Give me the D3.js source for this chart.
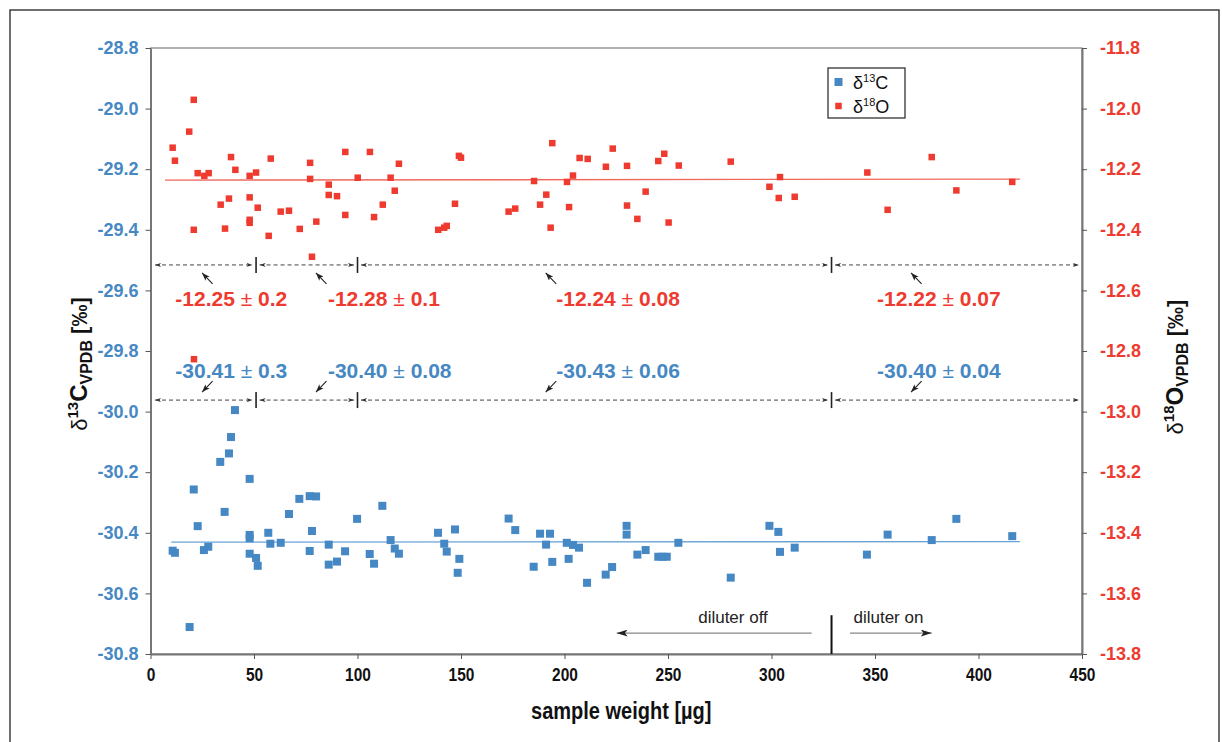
<!DOCTYPE html>
<html>
<head>
<meta charset="utf-8">
<script src="https://cdn.jsdelivr.net/npm/d3@7"></script>
<style>
  body { margin: 0; background: #fff; }
  svg { display: block; font-family: 'Liberation Sans', Arial, Helvetica, sans-serif; }
</style>
</head>
<body>
<div id="chart"></div>
<script>
const xTicks = [0, 50, 100, 150, 200, 250, 300, 350, 400, 450];
const yTicksC = [-30.8, -30.6, -30.4, -30.2, -30.0, -29.8, -29.6, -29.4, -29.2, -29.0, -28.8];
const yTicksO = [-13.8, -13.6, -13.4, -13.2, -13.0, -12.8, -12.6, -12.4, -12.2, -12.0, -11.8];

// sample weight [µg] / δ13C [‰]
const weightC = [10.7, 11.8, 18.9, 20.9, 22.8, 25.8, 27.9, 33.7, 35.8, 37.9, 38.9, 40.8, 47.9, 47.9, 47.9, 47.9,
  51.0, 51.8, 56.9, 57.9, 62.9, 66.9, 71.9, 76.9, 76.9, 78.0, 80.0, 86.1, 86.1, 90.1, 94.0, 99.8, 105.9, 108.0,
  112.0, 116.0, 118.0, 120.0, 138.9, 141.9, 143.1, 147.1, 148.4, 149.2, 173.0, 176.2, 185.1, 188.2, 191.1, 193.0,
  194.1, 201.1, 202.0, 204.1, 207.0, 210.9, 219.9, 223.0, 230.0, 230.0, 235.2, 239.2, 245.3, 247.3, 249.4, 255.0,
  280.3, 299.0, 303.3, 304.1, 311.2, 346.1, 356.1, 377.4, 389.3, 416.3];
const delta13C = [-30.459, -30.466, -30.711, -30.257, -30.378, -30.457, -30.446, -30.166, -30.331, -30.138, -30.084,
  -29.995, -30.222, -30.407, -30.418, -30.469, -30.483, -30.509, -30.40, -30.436, -30.433, -30.338, -30.288, -30.279,
  -30.46, -30.394, -30.28, -30.439, -30.505, -30.495, -30.461, -30.354, -30.47, -30.502, -30.311, -30.424, -30.452,
  -30.469, -30.40, -30.436, -30.462, -30.389, -30.532, -30.486, -30.353, -30.391, -30.512, -30.403, -30.439, -30.403,
  -30.496, -30.433, -30.486, -30.44, -30.449, -30.565, -30.538, -30.513, -30.377, -30.406, -30.472, -30.457, -30.479,
  -30.479, -30.479, -30.433, -30.548, -30.377, -30.397, -30.463, -30.449, -30.472, -30.406, -30.424, -30.354, -30.411];

// sample weight [µg] / δ18O [‰]
const weightO = [10.7, 11.8, 18.7, 20.9, 20.9, 21.0, 22.8, 26.0, 28.1, 33.9, 36.0, 37.9, 38.9, 41.0, 47.9, 47.9, 47.9,
  47.9, 51.0, 51.8, 57.1, 58.1, 62.9, 66.9, 72.1, 77.1, 77.1, 78.0, 80.1, 86.1, 86.1, 90.1, 94.1, 94.1, 100.1, 106.0,
  108.0, 112.2, 116.0, 118.0, 120.0, 139.0, 141.9, 143.1, 147.1, 149.0, 150.0, 173.0, 176.2, 185.3, 188.2, 191.2,
  193.3, 194.1, 201.2, 202.2, 204.1, 207.3, 211.2, 220.0, 223.3, 230.2, 230.2, 235.2, 239.2, 245.3, 248.2, 250.3,
  255.2, 280.3, 299.0, 303.5, 304.1, 311.2, 346.3, 356.1, 377.4, 389.3, 416.3];
const delta18O = [-12.129, -12.172, -12.076, -11.971, -12.40, -12.827, -12.213, -12.222, -12.213, -12.317, -12.396,
  -12.297, -12.16, -12.202, -12.222, -12.293, -12.367, -12.377, -12.211, -12.327, -12.42, -12.165, -12.34, -12.337,
  -12.397, -12.179, -12.232, -12.489, -12.373, -12.251, -12.285, -12.289, -12.143, -12.351, -12.228, -12.143, -12.358,
  -12.317, -12.228, -12.271, -12.182, -12.40, -12.393, -12.387, -12.314, -12.156, -12.162, -12.34, -12.33, -12.239,
  -12.317, -12.284, -12.393, -12.114, -12.242, -12.325, -12.221, -12.163, -12.166, -12.192, -12.132, -12.189, -12.32,
  -12.364, -12.274, -12.173, -12.149, -12.376, -12.188, -12.175, -12.258, -12.295, -12.226, -12.291, -12.211, -12.334,
  -12.16, -12.27, -12.242];

// fitted lines (end points)
const fitWeightC = [10, 420];
const fitC = [-30.431, -30.429];
const fitWeightO = [7, 420];
const fitO = [-12.236, -12.233];

// weight ranges and their mean ± sd
const segmentBounds = [0, 51, 100, 329, 450];
const meanO = ['-12.25', '-12.28', '-12.24', '-12.22'];
const sdO = ['0.2', '0.1', '0.08', '0.07'];
const meanC = ['-30.41', '-30.40', '-30.43', '-30.40'];
const sdC = ['0.3', '0.08', '0.06', '0.04'];
const dilutorLabels = ['diluter off', 'diluter on'];

(function () {
  const WIDTH = 1222;
  const HEIGHT = 742;
  const PLOT = { LEFT: 150.5, RIGHT: 1082, TOP: 48, BOTTOM: 654 };
  const BLUE = '#4688c3';
  const RED = '#ee3a2f';
  const GREY = '#777';

  const xScale = d3.scaleLinear().domain([0, 450]).range([PLOT.LEFT, PLOT.RIGHT]);
  const yScaleC = d3.scaleLinear().domain([-30.8, -28.8]).range([PLOT.BOTTOM, PLOT.TOP]);
  const yScaleO = d3.scaleLinear().domain([-13.8, -11.8]).range([PLOT.BOTTOM, PLOT.TOP]);

  const svg = d3.select('#chart').append('svg').attr('width', WIDTH).attr('height', HEIGHT);
  svg.append('rect').attr('width', WIDTH).attr('height', HEIGHT).attr('fill', '#fff');

  // outer figure frame
  svg.append('rect')
    .attr('x', 10).attr('y', 10).attr('width', 1209).attr('height', 760)
    .attr('fill', 'none').attr('stroke', '#222').attr('stroke-width', 1.3);

  const defs = svg.append('defs');
  const addArrow = (id, color, w, h) => {
    defs.append('marker')
      .attr('id', id)
      .attr('viewBox', `0 0 ${w} ${h}`)
      .attr('refX', w).attr('refY', h / 2)
      .attr('markerWidth', w).attr('markerHeight', h)
      .attr('markerUnits', 'userSpaceOnUse')
      .attr('orient', 'auto-start-reverse')
      .append('path')
      .attr('d', `M0,0L${w},${h / 2}L0,${h}L${w * 0.25},${h / 2}Z`)
      .attr('fill', color);
  };
  addArrow('tip-small', '#333', 6, 4);
  addArrow('tip-mid', '#222', 8, 6);
  addArrow('tip-big', '#222', 11, 7);

  // plot frame
  svg.append('rect')
    .attr('x', PLOT.LEFT).attr('y', PLOT.TOP)
    .attr('width', PLOT.RIGHT - PLOT.LEFT).attr('height', PLOT.BOTTOM - PLOT.TOP)
    .attr('fill', 'none').attr('stroke', '#666').attr('stroke-width', 1);

  const styleAxis = (g, color, size) => {
    g.select('.domain').attr('stroke', GREY).attr('stroke-width', 2);
    g.selectAll('.tick line').attr('stroke', '#555').attr('stroke-width', 1);
    g.selectAll('.tick text')
      .attr('fill', color)
      .attr('font-size', size)
      .attr('font-weight', 'bold');
  };

  // x tick labels are a narrow face in the original, squeeze them a bit
  svg.append('g')
    .attr('transform', `translate(0,${PLOT.BOTTOM})`)
    .call(d3.axisBottom(xScale).tickValues(xTicks).tickSizeInner(5).tickSizeOuter(0).tickPadding(9))
    .call((g) => styleAxis(g, '#111', 18))
    .call((g) => g.selectAll('.tick text').attr('transform', 'scale(0.86,1)'));

  svg.append('g')
    .attr('transform', `translate(${PLOT.LEFT},0)`)
    .call(d3.axisLeft(yScaleC).tickValues(yTicksC).tickSizeInner(5).tickSizeOuter(0).tickPadding(7)
      .tickFormat((d) => d.toFixed(1)))
    .call((g) => styleAxis(g, BLUE, 18));

  svg.append('g')
    .attr('transform', `translate(${PLOT.RIGHT},0)`)
    .call(d3.axisRight(yScaleO).tickValues(yTicksO).tickSizeInner(5).tickSizeOuter(0).tickPadding(13)
      .tickFormat((d) => d.toFixed(1)))
    .call((g) => styleAxis(g, RED, 18));

  // axis titles
  svg.append('text')
    .attr('transform', `translate(${(PLOT.LEFT + PLOT.RIGHT) / 2 + 5},719) scale(0.87,1)`)
    .attr('text-anchor', 'middle')
    .attr('font-size', 23).attr('font-weight', 'bold').attr('fill', '#111')
    .text('sample weight [µg]');

  const yTitle = (x, y, sup, letter) => {
    const t = svg.append('text')
      .attr('transform', `translate(${x},${y}) rotate(-90)`)
      .attr('text-anchor', 'middle')
      .attr('font-size', 22).attr('fill', '#111');
    t.append('tspan').text('δ');
    t.append('tspan').attr('font-size', 15).attr('font-weight', 'bold').attr('dy', -9).text(sup);
    t.append('tspan').attr('font-size', 24).attr('font-weight', 'bold').attr('dy', 9).text(letter);
    t.append('tspan').attr('font-size', 16).attr('font-weight', 'bold').attr('dy', 5).text('VPDB');
    t.append('tspan').attr('font-weight', 'bold').attr('dy', -5).text(' [‰]');
  };
  yTitle(87, 364, '13', 'C');
  yTitle(1183, 367, '18', 'O');

  // segment rows with double arrows
  const rowO = yScaleO(-12.516);
  const rowC = yScaleC(-29.962);
  const segments = d3.pairs(segmentBounds);
  [rowO, rowC].forEach((rowY) => {
    const g = svg.append('g');
    g.selectAll('line.seg')
      .data(segments)
      .join('line')
      .attr('x1', (d, i) => xScale(d[0]) + (i === 0 ? 4.5 : 3.5))
      .attr('x2', (d, i) => xScale(d[1]) - (i === segments.length - 1 ? 3 : 3.5))
      .attr('y1', rowY).attr('y2', rowY)
      .attr('stroke', '#444').attr('stroke-width', 1)
      .attr('stroke-dasharray', '4,3')
      .attr('marker-start', 'url(#tip-small)')
      .attr('marker-end', 'url(#tip-small)');
    g.selectAll('line.div')
      .data(segmentBounds.slice(1, -1))
      .join('line')
      .attr('x1', (d) => xScale(d)).attr('x2', (d) => xScale(d))
      .attr('y1', rowY - 8).attr('y2', rowY + 8)
      .attr('stroke', '#222').attr('stroke-width', 1.6);
  });

  // mean ± sd labels
  const labelX = [12, 85.7, 196, 351];
  const pointerX = [30, 85, 196, 372.5];
  const statLabels = (means, sds, color, baseY) => {
    means.forEach((m, i) => {
      const t = svg.append('text')
        .attr('x', xScale(labelX[i])).attr('y', baseY)
        .attr('font-size', 21).attr('fill', color);
      t.append('tspan').attr('font-weight', 'bold').text(m + ' ');
      t.append('tspan').text('±');
      t.append('tspan').attr('font-weight', 'bold').text(' ' + sds[i]);
    });
  };
  statLabels(meanO, sdO, RED, 306);
  statLabels(meanC, sdC, BLUE, 378);

  const pointers = (rowY, dir) => {
    svg.append('g').selectAll('line')
      .data(pointerX)
      .join('line')
      .attr('x1', (d) => xScale(d)).attr('y1', rowY + dir * 19)
      .attr('x2', (d) => xScale(d) - 10.5).attr('y2', rowY + dir * 8)
      .attr('stroke', '#222').attr('stroke-width', 1.1)
      .attr('marker-end', 'url(#tip-mid)');
  };
  pointers(rowO, 1);
  pointers(rowC, -1);

  // fitted lines
  svg.append('line')
    .attr('x1', xScale(fitWeightO[0])).attr('x2', xScale(fitWeightO[1]))
    .attr('y1', yScaleO(fitO[0])).attr('y2', yScaleO(fitO[1]))
    .attr('stroke', '#f0675c').attr('stroke-width', 1.3);
  svg.append('line')
    .attr('x1', xScale(fitWeightC[0])).attr('x2', xScale(fitWeightC[1]))
    .attr('y1', yScaleC(fitC[0])).attr('y2', yScaleC(fitC[1]))
    .attr('stroke', '#6aa3d6').attr('stroke-width', 1.3);

  // data points
  const sizeC = 8;
  const sizeO = 6.5;
  svg.append('g').selectAll('rect')
    .data(d3.zip(weightC, delta13C))
    .join('rect')
    .attr('x', (d) => xScale(d[0]) - sizeC / 2)
    .attr('y', (d) => yScaleC(d[1]) - sizeC / 2)
    .attr('width', sizeC).attr('height', sizeC)
    .attr('fill', BLUE);
  svg.append('g').selectAll('rect')
    .data(d3.zip(weightO, delta18O))
    .join('rect')
    .attr('x', (d) => xScale(d[0]) - sizeO / 2)
    .attr('y', (d) => yScaleO(d[1]) - sizeO / 2)
    .attr('width', sizeO).attr('height', sizeO)
    .attr('fill', RED);

  // diluter annotation
  const dilY = yScaleC(-30.731);
  svg.append('line')
    .attr('x1', xScale(329)).attr('x2', xScale(329))
    .attr('y1', yScaleC(-30.672)).attr('y2', PLOT.BOTTOM)
    .attr('stroke', '#111').attr('stroke-width', 2);
  svg.append('line')
    .attr('x1', xScale(319.4)).attr('x2', xScale(225.2))
    .attr('y1', dilY).attr('y2', dilY)
    .attr('stroke', '#888').attr('stroke-width', 1.3)
    .attr('marker-end', 'url(#tip-big)');
  svg.append('line')
    .attr('x1', xScale(337.9)).attr('x2', xScale(377.4))
    .attr('y1', dilY).attr('y2', dilY)
    .attr('stroke', '#888').attr('stroke-width', 1.3)
    .attr('marker-end', 'url(#tip-big)');
  svg.append('text')
    .attr('x', xScale(281.4)).attr('y', dilY - 10.5)
    .attr('text-anchor', 'middle')
    .attr('font-size', 17).attr('fill', '#222')
    .text(dilutorLabels[0]);
  svg.append('text')
    .attr('x', xScale(339.6)).attr('y', dilY - 10.5)
    .attr('font-size', 17).attr('fill', '#222')
    .text(dilutorLabels[1]);

  // legend
  const legend = svg.append('g').attr('transform', 'translate(828,68)');
  legend.append('rect')
    .attr('width', 77).attr('height', 50)
    .attr('fill', '#fff').attr('stroke', '#333').attr('stroke-width', 1.3);
  const legendItems = [
    { color: BLUE, size: sizeC, sup: '13', letter: 'C', y: 14 },
    { color: RED, size: sizeO, sup: '18', letter: 'O', y: 38 },
  ];
  legendItems.forEach((item) => {
    legend.append('rect')
      .attr('x', 10.5 - item.size / 2).attr('y', item.y - item.size / 2)
      .attr('width', item.size).attr('height', item.size)
      .attr('fill', item.color);
    const t = legend.append('text')
      .attr('x', 25).attr('y', item.y + 6.5)
      .attr('font-size', 18).attr('fill', '#111');
    t.append('tspan').text('δ');
    t.append('tspan').attr('font-size', 11).attr('dy', -7).text(item.sup);
    t.append('tspan').attr('dy', 7).text(item.letter);
  });
})();
</script>
</body>
</html>
